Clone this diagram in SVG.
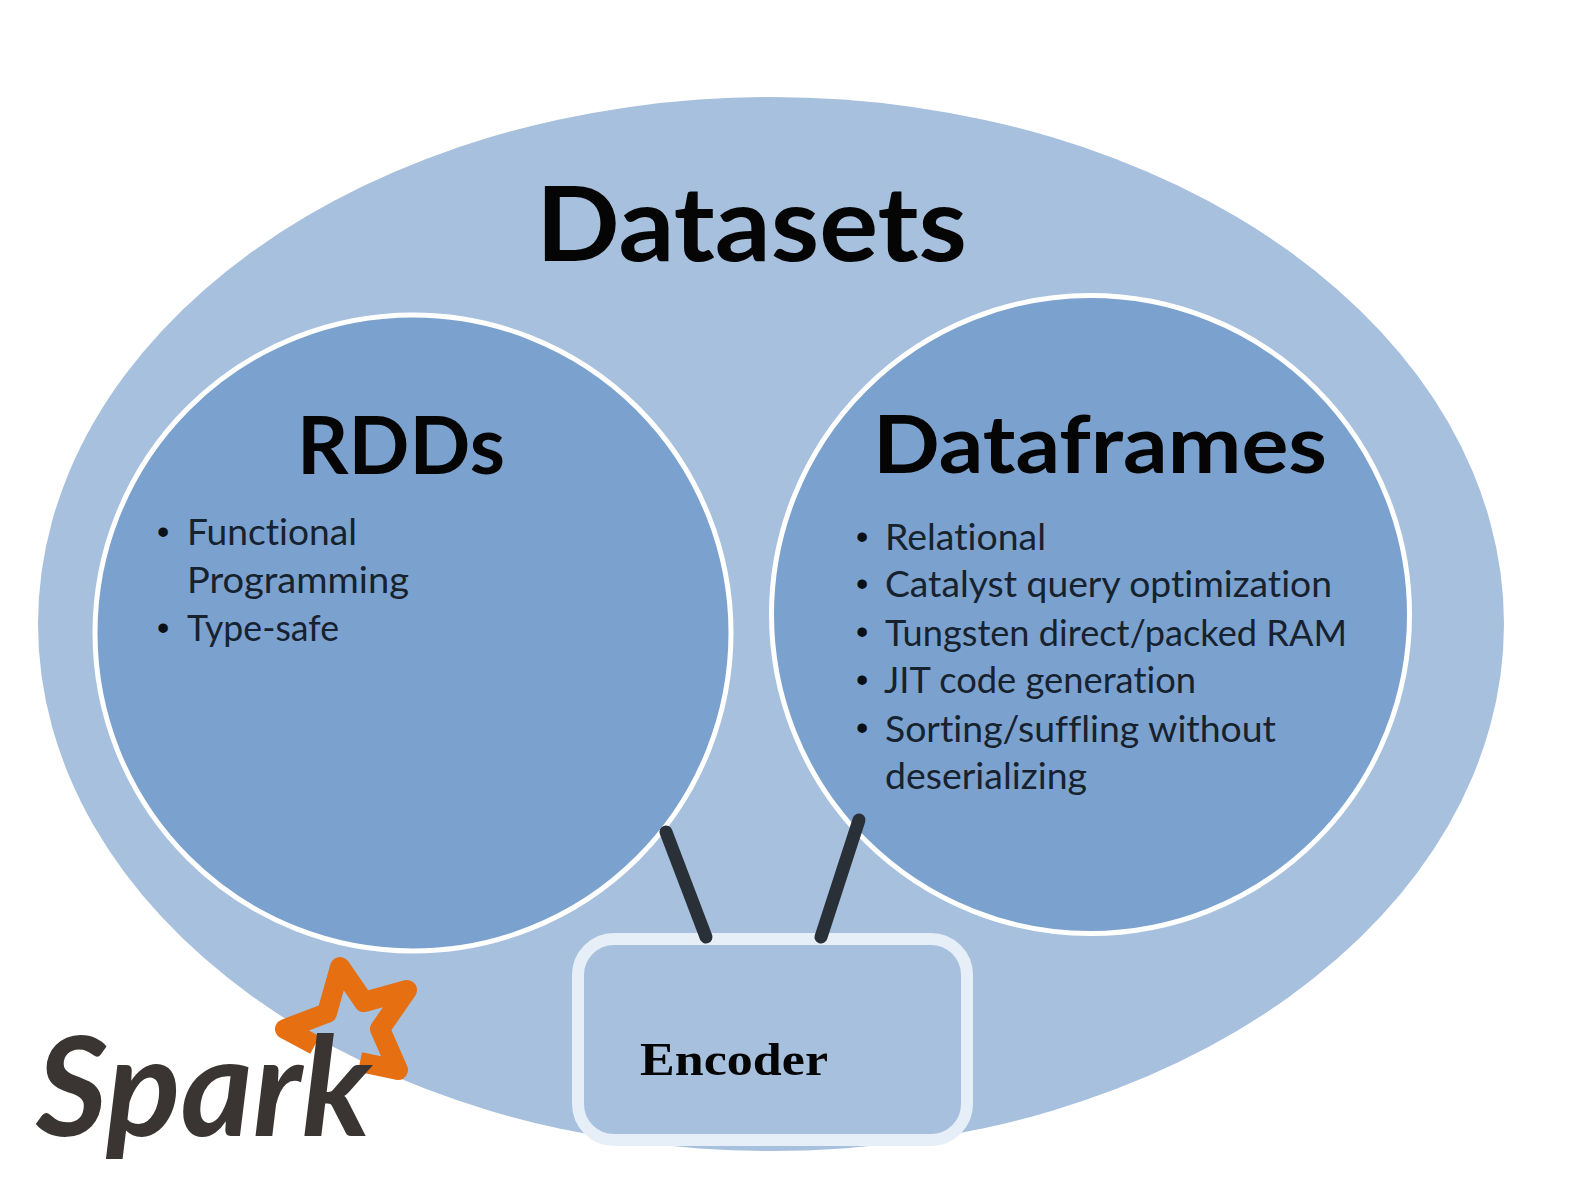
<svg xmlns="http://www.w3.org/2000/svg" width="1581" height="1191" viewBox="0 0 1581 1191">
<style>
text{font-variant-ligatures:none}
.t{font-family:Lato,"Open Sans",sans-serif;font-weight:700;fill:#050505}
.b{font-family:Lato,"Open Sans",sans-serif;font-size:36px;fill:#17222f}
.d{font-family:"Liberation Sans",sans-serif;font-size:35px;fill:#0b0f16}
.c{fill:#7ba1ce;stroke:#fff;stroke-width:5}
.l{stroke:#2a3038;stroke-width:13;stroke-linecap:round;fill:none}
</style>
<rect width="1581" height="1191" fill="#fff"/>
<g id="datasets">
<ellipse cx="771" cy="624" rx="733" ry="527" fill="#a7c0de"/>
<text class="t" x="536" y="261" font-size="104" textLength="431" lengthAdjust="spacingAndGlyphs">Datasets</text>
</g>
<g id="rdds">
<circle class="c" cx="413" cy="633" r="318"/>
<text class="t" x="297" y="474" font-size="81" textLength="208" lengthAdjust="spacingAndGlyphs">RDDs</text>
<text class="d" x="157" y="544">•</text>
<text class="b" x="187" y="545" textLength="170" lengthAdjust="spacingAndGlyphs">Functional</text>
<text class="b" x="187" y="593" textLength="222" lengthAdjust="spacingAndGlyphs">Programming</text>
<text class="d" x="157" y="640">•</text>
<text class="b" x="187" y="641" textLength="152" lengthAdjust="spacingAndGlyphs">Type-safe</text>
</g>
<g id="dataframes">
<circle class="c" cx="1090.5" cy="614.5" r="319"/>
<text class="t" x="873" y="473" font-size="81" textLength="454" lengthAdjust="spacingAndGlyphs">Dataframes</text>
<text class="d" x="856" y="549">•</text>
<text class="b" x="885" y="550" textLength="161" lengthAdjust="spacingAndGlyphs">Relational</text>
<text class="d" x="856" y="596">•</text>
<text class="b" x="885" y="597" textLength="447" lengthAdjust="spacingAndGlyphs">Catalyst query optimization</text>
<text class="d" x="856" y="644">•</text>
<text class="b" x="885" y="646" textLength="462" lengthAdjust="spacingAndGlyphs">Tungsten direct/packed RAM</text>
<text class="d" x="856" y="692">•</text>
<text class="b" x="884" y="693" textLength="312" lengthAdjust="spacingAndGlyphs">JIT code generation</text>
<text class="d" x="856" y="740">•</text>
<text class="b" x="885" y="742" textLength="391" lengthAdjust="spacingAndGlyphs">Sorting/suffling without</text>
<text class="b" x="885" y="789" textLength="202" lengthAdjust="spacingAndGlyphs">deserializing</text>
</g>
<g id="encoder">
<rect x="578" y="939" width="389" height="201" rx="36" fill="#a7c0de" stroke="#e6eef7" stroke-width="12"/>
<text x="640" y="1075" font-family="'Liberation Serif',serif" font-weight="700" font-size="47" fill="#050505" textLength="188" lengthAdjust="spacingAndGlyphs">Encoder</text>
</g>
<g id="connectors">
<path class="l" d="M666 832L706 937"/>
<path class="l" d="M859 820L821 937"/>
</g>
<g id="spark-logo">
<path d="M360 1062L398 1070L380 1029L407 990L364 1002L340 967L327 1013L285 1029L315 1045" fill="none" stroke="#e66f12" stroke-width="20" stroke-linejoin="round"/>
<text x="36" y="1136" font-family="Lato,sans-serif" font-style="italic" font-weight="700" font-size="138" fill="#3a3532" textLength="335" lengthAdjust="spacingAndGlyphs">Spark</text>
</g>
</svg>
